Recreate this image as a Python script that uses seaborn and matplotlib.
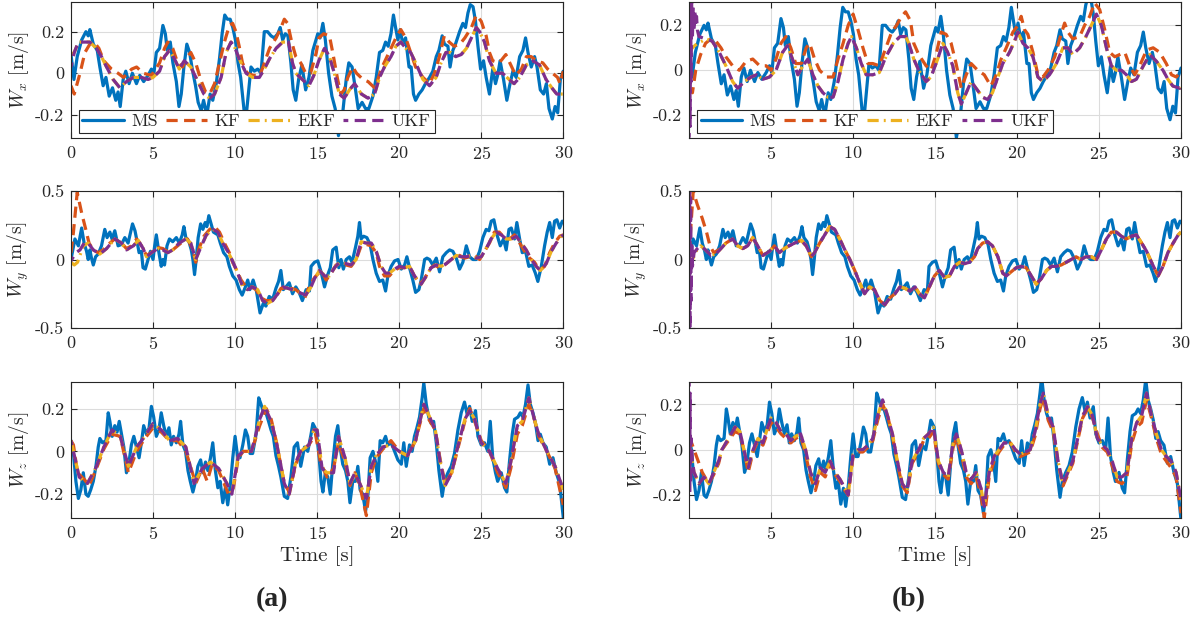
import numpy as np
import matplotlib
matplotlib.use("Agg")
import matplotlib.pyplot as plt
import seaborn as sns

# ---- measured wind (MS), same in (a) and (b) : (time, value) ----
ms_x = [(0, 0.09), (0.18, -0.03), (0.38, 0.08), (0.65, 0.16), (0.91, 0.20), (1.05, 0.18), (1.15, 0.21),
        (1.36, 0.14), (1.6, 0.11), (1.76, 0.03), (1.96, -0.06), (2.13, -0.02), (2.33, -0.11), (2.53, -0.07),
        (2.73, -0.13), (2.87, -0.09), (3.0, -0.16), (3.18, -0.03), (3.34, 0.01), (3.54, -0.05), (3.74, 0.0),
        (3.99, -0.05), (4.19, -0.01), (4.43, -0.04), (4.7, -0.01), (4.9, 0.02), (5.04, -0.01), (5.2, 0.10),
        (5.4, 0.12), (5.6, 0.23), (5.75, 0.19), (5.87, 0.11), (6.05, 0.15), (6.21, 0.05), (6.42, -0.04),
        (6.58, -0.16), (6.72, -0.10), (6.88, 0.03), (7.06, 0.14), (7.23, 0.10), (7.39, 0.02), (7.59, -0.06),
        (7.75, -0.14), (7.94, -0.18), (8.08, -0.13), (8.28, -0.20), (8.48, -0.10), (8.64, -0.13), (8.85, -0.05),
        (9.05, 0.07), (9.21, 0.19), (9.37, 0.28), (9.53, 0.26), (9.7, 0.26), (9.86, 0.22), (10.02, 0.16),
        (10.18, 0.05), (10.34, -0.02), (10.55, -0.18), (10.67, -0.21), (10.83, -0.08), (10.97, 0.03),
        (11.17, 0.01), (11.38, 0.02), (11.58, 0.0), (11.78, 0.20), (11.98, 0.20), (12.19, 0.18), (12.39, 0.17),
        (12.6, 0.19), (12.75, 0.22), (12.9, 0.16), (13.06, 0.19), (13.22, 0.18), (13.4, 0.05), (13.54, -0.08),
        (13.7, -0.13), (13.87, -0.03), (14.07, 0.04), (14.3, -0.08), (14.5, -0.02), (14.74, 0.11), (15.04, 0.19),
        (15.18, 0.17), (15.35, 0.24), (15.5, 0.16), (15.7, 0.0), (15.9, -0.11), (16.1, -0.17), (16.3, -0.30),
        (16.56, -0.19), (16.77, -0.03), (16.93, 0.05), (17.13, 0.03), (17.34, -0.08), (17.5, -0.17),
        (17.74, -0.14), (17.95, -0.17), (18.15, -0.17), (18.4, -0.11), (18.6, -0.02), (18.8, 0.10), (19.0, 0.11),
        (19.17, 0.15), (19.33, 0.13), (19.5, 0.19), (19.65, 0.28), (19.78, 0.22), (19.92, 0.16), (20.06, 0.21),
        (20.22, 0.14), (20.39, 0.17), (20.6, 0.03), (20.73, 0.03), (20.87, -0.10), (21.0, -0.13), (21.2, -0.10),
        (21.4, -0.08), (21.6, -0.05), (21.85, -0.02), (22.05, 0.01), (22.26, 0.08), (22.42, 0.11), (22.62, 0.18),
        (22.76, 0.14), (22.97, 0.13), (23.1, 0.03), (23.27, 0.11), (23.43, 0.14), (23.68, 0.20), (23.88, 0.24),
        (24.04, 0.22), (24.19, 0.29), (24.33, 0.33), (24.5, 0.32), (24.65, 0.25), (24.8, 0.13), (24.96, 0.02),
        (25.14, 0.06), (25.3, -0.02), (25.5, -0.10), (25.7, 0.02), (25.87, -0.05), (26.0, -0.01), (26.15, 0.06),
        (26.36, -0.03), (26.56, -0.13), (26.73, -0.06), (26.93, 0.01), (27.13, -0.02), (27.34, 0.08),
        (27.54, 0.11), (27.7, 0.17), (27.85, 0.10), (28.05, 0.03), (28.25, 0.08), (28.4, 0.03), (28.6, -0.08),
        (28.8, -0.10), (28.97, -0.05), (29.13, -0.17), (29.33, -0.22), (29.5, -0.16), (29.66, -0.19),
        (29.82, -0.03), (30.0, 0.01)]

ms_y = [(0, 0.0), (0.24, 0.15), (0.45, 0.10), (0.65, 0.23), (0.8, 0.12), (0.95, 0.06), (1.05, 0.0), (1.15, 0.07),
        (1.25, 0.01), (1.36, -0.04), (1.5, 0.02), (1.66, 0.04), (1.86, 0.10), (2.06, 0.22), (2.2, 0.16),
        (2.37, 0.20), (2.5, 0.15), (2.67, 0.21), (2.87, 0.10), (3.08, 0.11), (3.28, 0.16), (3.48, 0.12),
        (3.75, 0.26), (3.9, 0.21), (4.0, 0.15), (4.15, 0.05), (4.29, 0.06), (4.39, -0.06), (4.53, -0.07),
        (4.7, 0.0), (4.84, 0.06), (5.0, 0.0), (5.1, 0.10), (5.2, 0.18), (5.36, 0.05), (5.5, -0.05), (5.6, 0.0),
        (5.7, -0.04), (5.85, 0.10), (6.0, 0.15), (6.2, 0.13), (6.42, 0.16), (6.6, 0.12), (6.78, 0.18),
        (6.88, 0.24), (7.0, 0.16), (7.19, 0.13), (7.33, 0.07), (7.43, 0.0), (7.53, -0.11), (7.63, 0.0),
        (7.75, 0.16), (7.9, 0.26), (8.04, 0.22), (8.18, 0.27), (8.28, 0.24), (8.4, 0.32), (8.54, 0.26),
        (8.68, 0.20), (8.95, 0.18), (9.1, 0.12), (9.3, 0.05), (9.5, 0.02), (9.65, -0.05), (9.86, -0.12),
        (10.06, -0.15), (10.26, -0.22), (10.43, -0.26), (10.63, -0.20), (10.77, -0.15), (10.9, -0.22),
        (11.1, -0.15), (11.3, -0.23), (11.52, -0.39), (11.72, -0.32), (11.88, -0.34), (12.08, -0.27),
        (12.29, -0.29), (12.49, -0.21), (12.65, -0.16), (12.79, -0.08), (12.94, -0.22), (13.1, -0.20),
        (13.3, -0.17), (13.5, -0.25), (13.7, -0.20), (13.9, -0.24), (14.1, -0.30), (14.33, -0.22),
        (14.53, -0.23), (14.63, -0.05), (14.84, -0.02), (15.04, -0.01), (15.24, -0.09), (15.45, -0.20),
        (15.65, -0.11), (15.8, -0.06), (15.95, 0.07), (16.16, 0.09), (16.32, -0.06), (16.46, 0.0),
        (16.6, -0.07), (16.77, 0.0), (16.97, 0.02), (17.13, -0.02), (17.34, 0.09), (17.48, 0.17), (17.58, 0.27),
        (17.68, 0.15), (17.83, 0.17), (18.03, 0.16), (18.23, 0.11), (18.4, 0.0), (18.6, -0.10), (18.8, -0.16),
        (19.0, -0.15), (19.17, -0.23), (19.31, -0.12), (19.51, -0.05), (19.72, -0.01), (19.93, 0.0),
        (20.13, -0.07), (20.33, -0.04), (20.47, 0.02), (20.63, -0.06), (20.83, -0.15), (21.0, -0.24),
        (21.2, -0.22), (21.34, -0.15), (21.55, 0.0), (21.69, 0.01), (21.85, 0.0), (22.05, -0.04), (22.26, 0.01),
        (22.46, -0.09), (22.66, 0.02), (22.87, 0.05), (23.07, 0.07), (23.27, 0.06), (23.48, 0.01), (23.68, -0.07),
        (23.88, -0.02), (24.09, 0.10), (24.29, 0.02), (24.49, 0.0), (24.7, 0.0), (24.9, 0.06), (25.1, 0.16),
        (25.3, 0.22), (25.47, 0.21), (25.61, 0.28), (25.77, 0.29), (25.96, 0.18), (26.16, 0.10), (26.36, 0.15),
        (26.52, 0.07), (26.69, 0.22), (26.83, 0.23), (27.03, 0.15), (27.17, 0.27), (27.34, 0.15), (27.5, 0.05),
        (27.7, 0.06), (27.9, -0.05), (28.1, -0.04), (28.3, -0.10), (28.45, -0.16), (28.66, -0.05), (28.86, 0.10),
        (29.02, 0.20), (29.17, 0.27), (29.33, 0.16), (29.47, 0.28), (29.61, 0.29), (29.78, 0.23), (29.94, 0.28),
        (30.0, 0.27)]

ms_z = [(0, 0.05), (0.14, 0.0), (0.3, -0.14), (0.45, -0.22), (0.6, -0.18), (0.75, -0.10), (0.91, -0.20),
        (1.05, -0.21), (1.2, -0.18), (1.36, -0.14), (1.52, -0.07), (1.66, 0.02), (1.76, 0.06), (1.92, 0.04),
        (2.13, 0.05), (2.27, 0.18), (2.37, 0.14), (2.51, 0.07), (2.67, 0.12), (2.81, 0.09), (2.94, 0.14),
        (3.08, 0.08), (3.22, 0.02), (3.38, -0.10), (3.5, -0.07), (3.68, 0.03), (3.83, 0.07), (3.99, 0.02),
        (4.15, -0.03), (4.29, 0.04), (4.43, 0.12), (4.6, 0.08), (4.76, 0.11), (4.9, 0.21), (5.04, 0.16),
        (5.2, 0.07), (5.36, 0.10), (5.5, 0.18), (5.65, 0.12), (5.81, 0.07), (5.97, 0.11), (6.11, 0.03),
        (6.25, 0.07), (6.42, 0.04), (6.58, 0.08), (6.68, 0.14), (6.82, 0.03), (6.98, 0.0), (7.13, -0.09),
        (7.27, -0.14), (7.43, -0.19), (7.59, -0.14), (7.73, -0.07), (7.9, -0.04), (8.04, -0.10), (8.2, -0.05),
        (8.34, -0.09), (8.5, -0.03), (8.64, 0.04), (8.8, -0.09), (8.95, -0.17), (9.09, -0.14), (9.25, -0.24),
        (9.41, -0.17), (9.55, -0.25), (9.72, -0.15), (9.86, -0.03), (10.0, 0.07), (10.16, -0.03), (10.3, -0.03),
        (10.47, 0.03), (10.63, 0.10), (10.77, 0.07), (10.91, -0.01), (11.07, -0.01), (11.28, 0.08), (11.44, 0.25),
        (11.58, 0.22), (11.74, 0.18), (11.88, 0.18), (12.04, 0.14), (12.19, 0.10), (12.33, 0.07), (12.49, -0.02),
        (12.65, -0.07), (12.79, -0.12), (13.0, -0.21), (13.2, -0.22), (13.4, -0.12), (13.6, 0.02), (13.8, 0.04),
        (14.0, -0.07), (14.23, 0.02), (14.43, 0.0), (14.63, 0.08), (14.74, 0.13), (14.94, 0.10), (15.1, -0.01),
        (15.24, -0.14), (15.35, -0.19), (15.5, -0.10), (15.65, -0.12), (15.8, -0.20), (15.95, -0.06),
        (16.12, 0.07), (16.26, 0.12), (16.4, 0.02), (16.56, -0.06), (16.73, -0.09), (16.87, -0.14), (17.0, -0.24),
        (17.17, -0.14), (17.34, -0.14), (17.48, -0.07), (17.62, -0.18), (17.78, -0.20), (17.95, -0.28),
        (18.1, -0.20), (18.23, -0.03), (18.4, 0.0), (18.56, -0.05), (18.7, -0.14), (18.84, 0.05), (19.0, 0.04),
        (19.17, 0.07), (19.31, 0.03), (19.51, 0.04), (19.72, 0.0), (19.92, -0.04), (20.13, -0.06), (20.28, 0.04),
        (20.43, -0.07), (20.63, 0.03), (20.79, 0.0), (20.93, 0.07), (21.08, 0.11), (21.24, 0.16), (21.4, 0.25),
        (21.5, 0.32), (21.65, 0.22), (21.8, 0.16), (21.95, 0.13), (22.1, 0.14), (22.26, 0.04), (22.42, -0.09),
        (22.62, -0.21), (22.76, -0.14), (22.97, -0.10), (23.17, -0.07), (23.37, -0.01), (23.58, 0.10),
        (23.78, 0.18), (23.98, 0.23), (24.15, 0.17), (24.29, 0.21), (24.45, 0.14), (24.65, 0.19), (24.8, 0.07),
        (25.0, 0.03), (25.2, 0.04), (25.4, 0.0), (25.55, 0.14), (25.7, -0.03), (25.87, -0.10), (26.0, -0.14),
        (26.22, -0.10), (26.42, -0.17), (26.56, -0.19), (26.73, -0.04), (26.89, 0.08), (27.03, 0.15),
        (27.24, 0.16), (27.38, 0.18), (27.54, 0.16), (27.7, 0.22), (27.85, 0.31), (27.99, 0.22), (28.15, 0.18),
        (28.31, 0.13), (28.46, 0.05), (28.6, 0.08), (28.76, 0.04), (28.96, 0.02), (29.17, -0.06), (29.37, -0.03),
        (29.57, -0.10), (29.78, -0.15), (30.0, -0.31)]

# ---- (a) filter estimates ----
kf_a_x = [(0, -0.06), (0.2, -0.10), (0.55, 0.0), (0.85, 0.10), (1.15, 0.14), (1.4, 0.15), (1.7, 0.12), (2.0, 0.06),
          (2.47, 0.02), (2.87, 0.0), (3.2, -0.02), (3.7, 0.02), (4.0, 0.03), (4.4, 0.0), (4.9, -0.01), (5.4, 0.05),
          (5.7, 0.12), (5.9, 0.15), (6.2, 0.12), (6.5, 0.05), (6.8, 0.03), (7.1, 0.08), (7.3, 0.10), (7.6, 0.05),
          (7.9, -0.03), (8.2, -0.09), (8.45, -0.10), (8.75, -0.05), (9.05, 0.05), (9.35, 0.15), (9.65, 0.23),
          (9.85, 0.24), (10.05, 0.20), (10.25, 0.13), (10.45, 0.05), (10.75, 0.0), (11.1, -0.01), (11.5, -0.01),
          (11.7, 0.03), (12.1, 0.12), (12.5, 0.17), (12.8, 0.22), (13.0, 0.26), (13.2, 0.24), (13.45, 0.15),
          (13.7, 0.08), (14.0, 0.05), (14.3, 0.0), (14.6, 0.0), (14.95, 0.10), (15.1, 0.17), (15.4, 0.19),
          (15.75, 0.18), (15.95, 0.10), (16.25, -0.03), (16.45, -0.10), (16.65, -0.08), (16.87, -0.02),
          (17.17, 0.03), (17.4, 0.0), (17.8, -0.03), (18.1, -0.04), (18.5, -0.07), (18.7, -0.03), (18.9, 0.02),
          (19.2, 0.07), (19.5, 0.12), (19.8, 0.17), (20.1, 0.21), (20.4, 0.17), (20.7, 0.10), (21.0, 0.03),
          (21.45, -0.02), (21.85, -0.05), (22.15, 0.0), (22.45, 0.08), (22.75, 0.18), (23.05, 0.15),
          (23.35, 0.13), (23.7, 0.14), (24.0, 0.17), (24.4, 0.22), (24.7, 0.28), (25.0, 0.25), (25.3, 0.18),
          (25.5, 0.10), (25.7, 0.06), (26.1, 0.05), (26.5, 0.09), (26.8, 0.04), (27.1, -0.01), (27.45, 0.02),
          (27.75, 0.08), (28.05, 0.08), (28.35, 0.06), (28.75, 0.05), (29.05, 0.02), (29.35, 0.0), (29.65, -0.02),
          (29.8, -0.05), (30, 0.01)]

ukf_a_x = [(0, 0.03), (0.2, 0.10), (0.45, 0.15), (0.75, 0.15), (1.15, 0.15), (1.55, 0.12), (1.86, 0.08),
           (2.17, 0.03), (2.57, -0.03), (2.98, -0.07), (3.38, -0.04), (3.8, -0.02), (4.3, -0.02), (4.7, -0.03),
           (5.0, -0.02), (5.4, 0.01), (5.7, 0.08), (6.0, 0.11), (6.3, 0.07), (6.6, 0.02), (6.9, 0.06), (7.3, 0.03),
           (7.8, -0.05), (8.1, -0.10), (8.45, -0.12), (8.75, -0.10), (9.15, -0.02), (9.45, 0.10), (9.75, 0.15),
           (9.95, 0.13), (10.25, 0.07), (10.67, 0.0), (11.07, -0.02), (11.48, -0.02), (11.78, 0.02), (12.1, 0.07),
           (12.5, 0.12), (12.9, 0.15), (13.25, 0.15), (13.5, 0.05), (13.7, 0.0), (14.1, -0.03), (14.5, -0.06),
           (14.8, -0.01), (15.1, 0.06), (15.45, 0.12), (15.75, 0.08), (16.05, 0.0), (16.35, -0.10), (16.65, -0.12),
           (16.97, -0.08), (17.28, -0.05), (17.7, -0.10), (18.1, -0.12), (18.5, -0.10), (18.8, -0.02), (19.1, 0.03),
           (19.5, 0.08), (19.8, 0.13), (20.1, 0.15), (20.4, 0.12), (20.7, 0.10), (21.0, 0.05), (21.45, -0.03),
           (21.85, -0.06), (22.25, -0.02), (22.55, 0.05), (22.85, 0.10), (23.15, 0.10), (23.45, 0.08),
           (23.78, 0.09), (24.1, 0.12), (24.4, 0.17), (24.7, 0.22), (24.9, 0.20), (25.2, 0.15), (25.5, 0.06),
           (25.9, 0.0), (26.3, 0.0), (26.7, -0.03), (27.0, -0.05), (27.35, -0.02), (27.75, 0.04), (28.15, 0.06),
           (28.55, 0.04), (28.95, -0.03), (29.3, -0.07), (29.6, -0.10), (30, -0.10)]
# EKF starts higher, then lies on the UKF curve
ekf_a_x = [(0, 0.09), (0.2, 0.10)] + ukf_a_x[2:]

kf_a_y = [(0, 0.05), (0.15, 0.20), (0.38, 0.49), (0.65, 0.34), (0.9, 0.22), (1.1, 0.12), (1.36, 0.07), (1.66, 0.05),
          (1.96, 0.07), (2.37, 0.12), (2.67, 0.15), (3.08, 0.12), (3.38, 0.08), (3.7, 0.10), (4.0, 0.15),
          (4.3, 0.10), (4.6, 0.03), (4.9, 0.05), (5.2, 0.09), (5.6, 0.08), (6.0, 0.05), (6.3, 0.08), (6.7, 0.12),
          (7.1, 0.15), (7.4, 0.08), (7.6, -0.02), (7.8, 0.08), (8.1, 0.17), (8.45, 0.22), (8.75, 0.24),
          (9.05, 0.20), (9.35, 0.12), (9.65, 0.05), (9.85, -0.02), (10.1, -0.08), (10.37, -0.15), (10.67, -0.20),
          (10.97, -0.20), (11.28, -0.22), (11.58, -0.28), (11.88, -0.30), (12.2, -0.30), (12.5, -0.27),
          (12.8, -0.21), (13.1, -0.21), (13.4, -0.21), (13.7, -0.22), (14.0, -0.25), (14.25, -0.28), (14.5, -0.20),
          (14.85, -0.13), (15.25, -0.08), (15.55, -0.15), (15.85, -0.10), (16.15, -0.04), (16.45, -0.03),
          (16.77, -0.04), (17.07, -0.05), (17.38, 0.0), (17.68, 0.10), (17.99, 0.11), (18.3, 0.10), (18.6, 0.05),
          (18.8, -0.05), (19.1, -0.12), (19.4, -0.12), (19.7, -0.08), (20.0, -0.06), (20.3, -0.06), (20.63, -0.05),
          (20.93, -0.12), (21.24, -0.18), (21.55, -0.14), (21.85, -0.07), (22.15, -0.04), (22.46, -0.06),
          (22.77, -0.04), (23.07, -0.01), (23.37, 0.02), (23.68, 0.03), (23.98, 0.01), (24.29, 0.02), (24.6, 0.03),
          (24.9, 0.0), (25.2, 0.06), (25.5, 0.12), (25.8, 0.20), (26.1, 0.20), (26.4, 0.16), (26.73, 0.15),
          (27.03, 0.18), (27.34, 0.12), (27.64, 0.06), (27.95, 0.01), (28.25, -0.02), (28.56, -0.08),
          (28.86, -0.05), (29.17, 0.05), (29.47, 0.12), (29.78, 0.17), (30, 0.18)]

ukf_a_y = [(0, -0.01), (0.3, 0.05), (0.55, 0.07), (0.85, 0.13), (1.05, 0.12), (1.36, 0.07), (1.76, 0.04),
           (2.17, 0.08), (2.67, 0.15), (3.08, 0.12), (3.38, 0.07), (3.8, 0.10), (4.1, 0.14), (4.4, 0.08),
           (4.6, 0.02), (4.9, 0.05), (5.3, 0.08), (5.6, 0.07), (5.9, 0.05), (6.2, 0.07), (6.6, 0.12), (7.0, 0.15),
           (7.3, 0.12), (7.6, 0.0), (7.95, 0.10), (8.25, 0.18), (8.65, 0.22), (8.95, 0.20), (9.25, 0.12),
           (9.55, 0.06), (9.8, 0.0), (10.1, -0.08), (10.47, -0.20), (10.77, -0.22), (11.07, -0.20), (11.38, -0.22),
           (11.68, -0.30), (11.98, -0.32), (12.29, -0.30), (12.6, -0.25), (12.9, -0.20), (13.2, -0.21),
           (13.5, -0.22), (13.9, -0.24), (14.3, -0.26), (14.63, -0.20), (14.84, -0.14), (15.14, -0.08),
           (15.45, -0.12), (15.75, -0.12), (16.06, -0.06), (16.36, -0.02), (16.77, -0.03), (17.07, -0.04),
           (17.38, 0.0), (17.68, 0.13), (17.99, 0.12), (18.3, 0.12), (18.6, 0.06), (18.9, -0.05), (19.17, -0.10),
           (19.4, -0.10), (19.72, -0.07), (20.0, -0.05), (20.33, -0.06), (20.63, -0.05), (20.93, -0.12),
           (21.34, -0.18), (21.65, -0.12), (21.95, -0.06), (22.26, -0.04), (22.56, -0.05), (22.87, -0.03),
           (23.17, 0.0), (23.48, 0.03), (23.78, 0.02), (24.09, 0.02), (24.4, 0.03), (24.7, 0.01), (25.0, 0.02),
           (25.3, 0.08), (25.6, 0.15), (25.91, 0.20), (26.22, 0.18), (26.52, 0.15), (26.83, 0.15), (27.13, 0.17),
           (27.44, 0.12), (27.74, 0.07), (28.05, 0.0), (28.35, -0.05), (28.6, -0.08), (28.96, -0.03), (29.27, 0.06),
           (29.57, 0.12), (29.9, 0.17), (30, 0.18)]
ekf_a_y = [(0, -0.02), (0.2, -0.04), (0.4, -0.02), (0.75, 0.10)] + ukf_a_y[4:]

kf_a_z = [(0, 0.05), (0.15, 0.03), (0.4, -0.10), (0.8, -0.13), (1.1, -0.16), (1.5, -0.09), (2.0, 0.01), (2.5, 0.08),
          (3.0, 0.07), (3.5, -0.10), (4.0, 0.0), (4.5, 0.06), (5.0, 0.11), (5.5, 0.09), (6.0, 0.05), (6.5, 0.05),
          (7.0, 0.0), (7.6, -0.15), (8.0, -0.08), (8.3, -0.14), (8.6, -0.06), (9.0, -0.09), (9.6, -0.20),
          (9.9, -0.17), (10.2, -0.03), (10.5, 0.0), (11.0, 0.0), (11.5, 0.12), (11.9, 0.20), (12.2, 0.15),
          (12.5, 0.05), (13.0, -0.15), (13.3, -0.19), (13.7, -0.06), (14.0, 0.0), (14.5, 0.03), (14.9, 0.08),
          (15.2, -0.05), (15.6, -0.12), (16.0, -0.08), (16.3, 0.04), (16.7, -0.05), (17.0, -0.16), (17.3, -0.10),
          (17.6, -0.16), (18.0, -0.30), (18.3, -0.10), (18.6, -0.03), (19.0, 0.01), (19.5, 0.05), (20.0, 0.0),
          (20.5, -0.02), (21.0, 0.05), (21.5, 0.20), (21.8, 0.15), (22.2, 0.10), (22.5, -0.04), (22.8, -0.15),
          (23.2, -0.10), (23.5, -0.01), (24.0, 0.14), (24.3, 0.20), (24.6, 0.14), (25.0, 0.05), (25.5, 0.0),
          (26.0, -0.10), (26.5, -0.17), (26.8, -0.08), (27.2, 0.08), (27.5, 0.12), (27.9, 0.22), (28.2, 0.16),
          (28.5, 0.07), (29.0, 0.0), (29.5, -0.08), (30, -0.25)]

ukf_a_z = [(0, 0.05), (0.5, -0.12), (1.0, -0.15), (1.5, -0.08), (2.0, 0.02), (2.5, 0.10), (3.0, 0.07), (3.5, -0.07),
           (4.0, 0.02), (4.5, 0.07), (5.0, 0.13), (5.5, 0.10), (6.0, 0.05), (6.5, 0.06), (7.0, 0.02), (7.5, -0.15),
           (8.0, -0.08), (8.5, -0.05), (9.0, -0.08), (9.5, -0.15), (9.8, -0.20), (10.2, -0.02), (10.5, 0.0),
           (11.0, 0.0), (11.5, 0.15), (11.8, 0.21), (12.2, 0.14), (12.5, 0.05), (13.0, -0.15), (13.3, -0.20),
           (13.7, -0.05), (14.0, 0.0), (14.5, 0.03), (14.8, 0.10), (15.0, 0.10), (15.3, -0.08), (15.6, -0.10),
           (16.0, -0.10), (16.3, 0.07), (16.7, -0.03), (17.0, -0.15), (17.3, -0.10), (17.6, -0.15), (18.0, -0.22),
           (18.3, -0.07), (18.6, -0.02), (19.0, 0.02), (19.5, 0.03), (20.0, 0.0), (20.5, -0.02), (21.0, 0.05),
           (21.5, 0.22), (21.8, 0.17), (22.2, 0.10), (22.5, -0.05), (22.8, -0.16), (23.2, -0.10), (23.5, 0.0),
           (24.0, 0.15), (24.3, 0.19), (24.6, 0.15), (25.0, 0.04), (25.5, 0.0), (26.0, -0.08), (26.5, -0.15),
           (26.8, -0.05), (27.2, 0.12), (27.5, 0.14), (27.9, 0.25), (28.2, 0.16), (28.5, 0.08), (29.0, 0.0),
           (29.5, -0.07), (30, -0.18)]
ekf_a_z = ukf_a_z

# ---- (b) filter estimates ----
kf_b_x = [(0, -0.08), (0.2, -0.10), (0.4, 0.0), (0.7, 0.07), (1.0, 0.12), (1.33, 0.14), (1.63, 0.13), (1.94, 0.10),
          (2.24, 0.06), (2.65, 0.02), (3.06, 0.0), (3.47, 0.04), (3.88, 0.05), (4.3, 0.02), (4.7, 0.02), (5.0, 0.0),
          (5.3, 0.05), (5.6, 0.12), (5.9, 0.15), (6.2, 0.10), (6.5, 0.03), (6.84, 0.03), (7.14, 0.10), (7.35, 0.12),
          (7.65, 0.05), (7.96, 0.0), (8.37, -0.03), (8.78, -0.03), (9.08, 0.05), (9.39, 0.12), (9.7, 0.20),
          (10.0, 0.25), (10.3, 0.18), (10.6, 0.10), (10.9, 0.03), (11.2, 0.03), (11.6, 0.02), (12.0, 0.10),
          (12.35, 0.17), (12.65, 0.20), (12.96, 0.24), (13.2, 0.26), (13.5, 0.22), (13.7, 0.12), (14.0, 0.07),
          (14.45, 0.02), (14.75, 0.0), (15.06, 0.07), (15.37, 0.17), (15.67, 0.16), (15.98, 0.12), (16.28, 0.03),
          (16.6, -0.08), (16.9, -0.02), (17.2, 0.03), (17.6, 0.0), (18.0, -0.02), (18.4, -0.07), (18.73, -0.02),
          (19.03, 0.05), (19.34, 0.10), (19.75, 0.17), (20.05, 0.20), (20.25, 0.24), (20.46, 0.18), (20.66, 0.16),
          (20.97, 0.08), (21.27, -0.02), (21.58, -0.03), (21.88, 0.0), (22.3, 0.06), (22.6, 0.14), (22.9, 0.21),
          (23.1, 0.17), (23.4, 0.14), (23.82, 0.15), (24.12, 0.20), (24.43, 0.24), (24.73, 0.30), (25.04, 0.27),
          (25.35, 0.18), (25.65, 0.08), (25.96, 0.06), (26.26, 0.07), (26.57, 0.08), (26.87, 0.02), (27.18, -0.02),
          (27.48, 0.02), (27.9, 0.09), (28.3, 0.10), (28.7, 0.08), (29.1, 0.03), (29.42, -0.02), (29.72, -0.03),
          (30, 0.0)]

ukf_b_x = [(0.0, -0.30), (0.03, 0.30), (0.06, -0.25), (0.09, 0.30), (0.12, -0.05), (0.15, 0.30), (0.2, 0.15),
           (0.25, 0.28), (0.3, 0.18), (0.35, 0.26), (0.4, 0.20), (0.45, 0.24), (0.5, 0.18), (0.6, 0.15), (1.0, 0.14),
           (1.4, 0.13), (1.84, 0.08), (2.24, 0.02), (2.65, -0.05), (2.96, -0.08), (3.37, -0.05), (3.78, -0.03),
           (4.1, -0.02), (4.5, -0.04), (4.9, -0.03), (5.3, 0.0), (5.7, 0.08), (6.0, 0.11), (6.3, 0.05), (6.63, -0.02),
           (6.94, 0.02), (7.24, 0.05), (7.55, -0.02), (7.86, -0.07), (8.16, -0.10), (8.47, -0.12), (8.78, -0.12),
           (9.08, -0.05), (9.39, 0.05), (9.7, 0.12), (9.9, 0.15), (10.2, 0.10), (10.5, 0.03), (10.8, -0.02),
           (11.2, -0.02), (11.6, -0.01), (12.0, 0.06), (12.45, 0.12), (12.86, 0.15), (13.2, 0.15), (13.4, 0.12),
           (13.7, 0.05), (14.0, 0.0), (14.45, -0.05), (14.75, -0.03), (15.16, 0.05), (15.47, 0.12), (15.77, 0.08),
           (16.08, 0.02), (16.38, -0.10), (16.6, -0.15), (16.9, -0.10), (17.2, -0.05), (17.5, -0.08), (17.9, -0.12),
           (18.2, -0.13), (18.5, -0.10), (18.83, -0.03), (19.13, 0.03), (19.54, 0.08), (19.85, 0.13), (20.05, 0.17),
           (20.36, 0.12), (20.66, 0.10), (20.97, 0.06), (21.27, -0.03), (21.58, -0.05), (21.98, -0.02), (22.4, 0.03),
           (22.8, 0.10), (23.1, 0.10), (23.4, 0.07), (23.82, 0.10), (24.2, 0.15), (24.53, 0.20), (24.84, 0.25),
           (25.14, 0.20), (25.45, 0.10), (25.75, 0.02), (26.06, 0.0), (26.37, 0.0), (26.67, -0.02), (26.98, -0.05),
           (27.28, -0.04), (27.7, 0.02), (28.1, 0.07), (28.5, 0.04), (28.9, 0.0), (29.2, -0.04), (29.5, -0.07),
           (29.93, -0.08), (30, -0.07)]
ekf_b_x = [(0, 0.08), (0.2, 0.10), (0.5, 0.12), (0.8, 0.13)] + ukf_b_x[14:]

ukf_b_y = [(0.0, -0.50), (0.03, 0.50), (0.06, -0.50), (0.09, 0.45), (0.12, -0.30), (0.16, 0.10), (0.2, -0.05),
           (0.3, 0.05), (0.5, 0.08), (0.7, 0.10), (1.0, 0.07), (1.33, 0.03), (1.63, 0.04), (1.94, 0.08), (2.24, 0.12),
           (2.65, 0.15), (2.96, 0.10), (3.27, 0.08), (3.57, 0.10), (3.88, 0.16), (4.18, 0.10), (4.5, 0.03),
           (4.9, 0.06), (5.2, 0.10), (5.5, 0.05), (5.8, 0.08), (6.1, 0.10), (6.43, 0.12), (6.84, 0.14), (7.14, 0.10),
           (7.45, 0.02), (7.65, 0.05), (7.96, 0.12), (8.27, 0.18), (8.57, 0.24), (8.88, 0.22), (9.18, 0.15),
           (9.5, 0.07), (9.8, 0.0), (10.1, -0.08), (10.4, -0.17), (10.7, -0.25), (11.0, -0.20), (11.3, -0.22),
           (11.63, -0.30), (11.94, -0.33), (12.24, -0.28), (12.55, -0.25), (12.86, -0.20), (13.16, -0.21),
           (13.47, -0.23), (13.78, -0.20), (14.04, -0.25), (14.35, -0.28), (14.65, -0.20), (14.96, -0.12),
           (15.26, -0.08), (15.57, -0.13), (15.88, -0.12), (16.18, -0.05), (16.5, -0.02), (16.8, -0.03),
           (17.1, -0.02), (17.4, 0.02), (17.6, 0.08), (17.9, 0.12), (18.2, 0.13), (18.5, 0.10), (18.83, 0.02),
           (19.13, -0.10), (19.34, -0.12), (19.64, -0.09), (19.95, -0.06), (20.25, -0.05), (20.56, -0.06),
           (20.87, -0.12), (21.17, -0.18), (21.48, -0.14), (21.8, -0.08), (22.1, -0.05), (22.4, -0.05),
           (22.7, -0.04), (23.0, -0.02), (23.3, 0.0), (23.6, 0.02), (23.9, 0.0), (24.2, 0.02), (24.53, 0.02),
           (24.84, 0.0), (25.14, 0.07), (25.45, 0.15), (25.75, 0.20), (26.06, 0.20), (26.36, 0.17), (26.67, 0.15),
           (26.98, 0.17), (27.28, 0.18), (27.6, 0.12), (27.9, 0.06), (28.2, -0.02), (28.4, -0.07), (28.6, -0.12),
           (28.9, -0.05), (29.2, 0.05), (29.52, 0.12), (29.83, 0.18), (30, 0.20)]
kf_b_y = [(0, 0.05), (0.25, 0.50), (0.5, 0.40), (0.8, 0.30), (1.06, 0.20), (1.27, 0.10), (1.5, 0.05)] + ukf_b_y[13:]
ekf_b_y = [(0, -0.05), (0.2, 0.0), (0.4, 0.05)] + ukf_b_y[8:]

ukf_b_z = [(0.0, 0.30), (0.03, -0.20), (0.06, 0.25), (0.09, -0.15), (0.12, 0.05), (0.2, -0.05), (0.3, -0.10),
           (0.6, -0.15), (0.9, -0.12), (1.2, -0.15), (1.5, -0.10), (1.8, -0.05), (2.0, 0.0), (2.4, 0.05), (2.8, 0.10),
           (3.1, 0.08), (3.4, -0.02), (3.6, -0.08), (3.9, 0.0), (4.2, 0.05), (4.5, 0.03), (4.8, 0.10), (5.0, 0.14),
           (5.3, 0.12), (5.6, 0.08), (5.9, 0.07), (6.2, 0.04), (6.5, 0.06), (6.8, 0.07), (7.1, 0.0), (7.4, -0.10),
           (7.7, -0.15), (8.0, -0.08), (8.3, -0.10), (8.6, -0.05), (8.9, -0.10), (9.2, -0.13), (9.5, -0.17),
           (9.7, -0.20), (10.0, -0.02), (10.3, 0.0), (10.6, 0.0), (10.9, 0.02), (11.2, 0.05), (11.5, 0.15),
           (11.8, 0.22), (12.1, 0.15), (12.4, 0.07), (12.7, -0.05), (13.0, -0.15), (13.3, -0.18), (13.6, -0.05),
           (14.0, 0.0), (14.3, 0.05), (14.6, 0.07), (14.9, 0.10), (15.2, -0.05), (15.5, -0.10), (15.8, -0.12),
           (16.1, 0.03), (16.3, 0.07), (16.6, 0.0), (16.9, -0.10), (17.2, -0.13), (17.5, -0.10), (17.8, -0.17),
           (18.0, -0.25), (18.3, -0.10), (18.6, -0.03), (18.9, 0.0), (19.2, 0.03), (19.6, 0.03), (19.9, 0.0),
           (20.2, -0.02), (20.5, -0.01), (20.8, 0.0), (21.1, 0.08), (21.4, 0.20), (21.6, 0.25), (21.9, 0.15),
           (22.2, 0.10), (22.5, -0.05), (22.8, -0.15), (23.1, -0.10), (23.4, -0.05), (23.7, 0.05), (24.0, 0.15),
           (24.3, 0.19), (24.6, 0.15), (24.9, 0.05), (25.2, 0.02), (25.5, 0.0), (25.8, -0.05), (26.1, -0.12),
           (26.4, -0.12), (26.7, -0.10), (27.0, 0.05), (27.3, 0.12), (27.6, 0.15), (27.9, 0.25), (28.2, 0.15),
           (28.5, 0.07), (28.8, 0.0), (29.1, -0.03), (29.4, -0.05), (29.7, -0.10), (30, -0.22)]
kf_b_z = [(0, 0.06), (0.3, 0.0), (0.8, -0.10), (1.2, -0.15), (1.5, -0.11), (1.8, -0.06), (2.0, 0.0), (2.4, 0.04),
          (2.8, 0.08), (3.1, 0.07), (3.4, -0.02), (3.6, -0.10), (3.9, -0.01), (4.2, 0.04), (4.5, 0.02), (4.8, 0.08),
          (5.0, 0.12), (5.3, 0.10), (5.6, 0.07), (5.9, 0.05), (6.2, 0.03), (6.5, 0.05), (6.8, 0.06), (7.1, -0.02),
          (7.4, -0.12), (7.7, -0.18), (8.0, -0.10), (8.3, -0.12), (8.6, -0.06), (8.9, -0.11), (9.2, -0.14),
          (9.5, -0.18), (9.7, -0.20), (10.0, -0.03), (10.3, -0.01), (10.6, -0.01), (10.9, 0.01), (11.2, 0.04),
          (11.5, 0.13), (11.8, 0.20), (12.1, 0.15), (12.4, 0.06), (12.7, -0.06), (13.0, -0.16), (13.3, -0.19),
          (13.6, -0.06), (14.0, -0.01), (14.3, 0.04), (14.6, 0.05), (14.9, 0.08), (15.2, -0.06), (15.5, -0.11),
          (15.8, -0.13), (16.1, 0.01), (16.3, 0.05), (16.6, -0.02), (16.9, -0.12), (17.2, -0.15), (17.5, -0.12),
          (17.8, -0.20), (18.0, -0.30), (18.3, -0.12), (18.6, -0.05), (18.9, -0.01), (19.2, 0.02), (19.6, 0.03),
          (19.9, -0.01), (20.2, -0.03), (20.5, -0.02), (20.8, -0.01), (21.1, 0.06), (21.4, 0.18), (21.6, 0.23),
          (21.9, 0.13), (22.2, 0.08), (22.5, -0.06), (22.8, -0.16), (23.1, -0.11), (23.4, -0.06), (23.7, 0.04),
          (24.0, 0.14), (24.3, 0.18), (24.6, 0.14), (24.9, 0.07), (25.2, 0.01), (25.5, -0.01), (25.8, -0.07),
          (26.1, -0.14), (26.4, -0.15), (26.7, -0.12), (27.0, 0.03), (27.3, 0.10), (27.6, 0.12), (27.9, 0.22),
          (28.2, 0.14), (28.5, 0.05), (28.8, -0.02), (29.1, -0.05), (29.4, -0.08), (29.7, -0.12), (30, -0.28)]
ekf_b_z = [(0, 0.02), (0.2, -0.06)] + ukf_b_z[6:]

names = ["MS", "KF", "EKF", "UKF"]
ylabels = [r"$W_x$ [m/s]", r"$W_y$ [m/s]", r"$W_z$ [m/s]"]

sns.set_style("ticks")
plt.rcParams["font.family"] = "cmr10"
plt.rcParams["mathtext.fontset"] = "cm"
plt.rcParams["axes.unicode_minus"] = False
plt.rcParams["axes.formatter.use_mathtext"] = True

colors = ["#0072BD", "#D95319", "#EDB120", "#7E2F8E"]
styles = ["-", (0, (3.5, 2.0)), (0, (3.5, 1.6, 0.6, 1.6)), (2.0, (3.5, 2.0))]

fig = plt.figure(figsize=(11.99, 6.17), dpi=100)

lefts = [0.0592, 0.5749]
widths = [0.4106, 0.4101]
bottoms = [0.7768, 0.4684, 0.1609]
heights = [0.2204, 0.2220, 0.2204]
ylims = [[(-0.31, 0.344), (-0.5, 0.5), (-0.31, 0.325)],
         [(-0.3, 0.305), (-0.5, 0.5), (-0.3, 0.30)]]
yticks = [[-0.2, 0, 0.2], [-0.5, 0, 0.5], [-0.2, 0, 0.2]]
yticklabels = [["-0.2", "0", "0.2"], ["-0.5", "0", "0.5"], ["-0.2", "0", "0.2"]]

panels = [
    [[ms_x, kf_a_x, ekf_a_x, ukf_a_x], [ms_y, kf_a_y, ekf_a_y, ukf_a_y], [ms_z, kf_a_z, ekf_a_z, ukf_a_z]],
    [[ms_x, kf_b_x, ekf_b_x, ukf_b_x], [ms_y, kf_b_y, ekf_b_y, ukf_b_y], [ms_z, kf_b_z, ekf_b_z, ukf_b_z]],
]

for col in range(2):
    for row in range(3):
        ax = fig.add_axes([lefts[col], bottoms[row], widths[col], heights[row]])
        for series, c, ls in zip(panels[col][row], colors, styles):
            t, v = np.array(series).T
            sns.lineplot(x=t, y=v, ax=ax, color=c, linewidth=2.3, linestyle=ls,
                         sort=False, estimator=None, legend=False)
        if col == 0:
            ax.set_xlim(0, 30)
            ax.set_xticks([0, 5, 10, 15, 20, 25, 30])
        else:
            ax.set_xlim(0.01, 30)
            ax.set_xticks([5, 10, 15, 20, 25, 30])
        ax.set_ylim(*ylims[col][row])
        ax.set_yticks(yticks[row])
        ax.set_yticklabels(yticklabels[row])
        ax.grid(True, color="#dcdcdc", linewidth=0.8)
        ax.tick_params(direction="in", top=True, right=True, length=4, width=0.8,
                       labelsize=13, colors="#262626", pad=5)
        for sp in ax.spines.values():
            sp.set_color("#262626")
            sp.set_linewidth(0.8)
        ax.set_ylabel(ylabels[row], fontsize=14)
        ax.yaxis.set_label_coords(-0.082, 0.5)
        if row == 2:
            ax.set_xlabel("Time [s]", fontsize=15, labelpad=3)
        else:
            ax.set_xlabel("")
        if row == 0:
            leg = ax.legend(ax.get_lines()[:4], names, ncol=4, loc="lower left",
                            bbox_to_anchor=(0.016, 0.035), borderaxespad=0, fontsize=13,
                            fancybox=False, framealpha=1, edgecolor="#262626",
                            handlelength=2.3, columnspacing=0.45, handletextpad=0.4,
                            borderpad=0.2)
            leg.get_frame().set_linewidth(0.8)

fig.text(272 / 1199, 1 - 600 / 617, "(a)", ha="center", va="center",
         family="Liberation Serif", fontweight="bold", fontsize=20)
fig.text(909 / 1199, 1 - 600 / 617, "(b)", ha="center", va="center",
         family="Liberation Serif", fontweight="bold", fontsize=20)

fig.savefig("out.png", dpi=100)
